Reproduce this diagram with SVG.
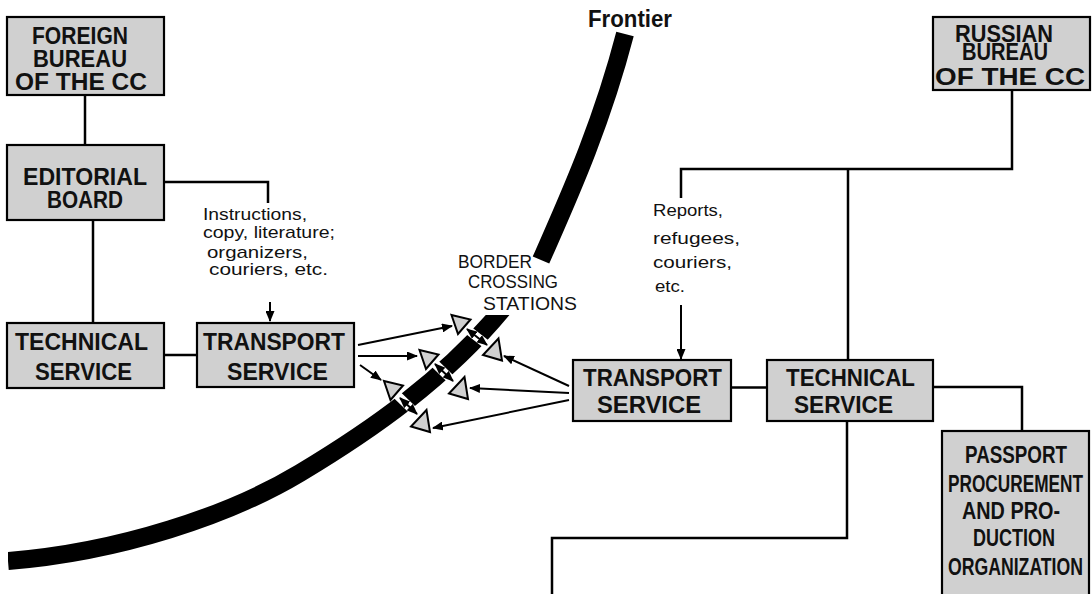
<svg xmlns="http://www.w3.org/2000/svg" width="1092" height="594" viewBox="0 0 1092 594">
<style>
.box{fill:#d0d0d0;stroke:#000;stroke-width:2.2}
.nt{font-family:"Liberation Sans",Arial,sans-serif;font-weight:bold;font-size:23px;fill:#111}
.lb{font-family:"Liberation Sans",Arial,sans-serif;font-size:17px;fill:#111}
.bc{font-family:"Liberation Sans",Arial,sans-serif;font-size:19px;fill:#111}
.ln{fill:none;stroke:#000;stroke-width:2.5}
.ar{fill:none;stroke:#000;stroke-width:2;marker-end:url(#ah)}
.da{fill:none;stroke:#000;stroke-width:2;marker-start:url(#ah);marker-end:url(#ah)}
.gap{stroke:#fff;stroke-width:9;fill:none}
.band{fill:none;stroke:#000;stroke-width:18}
.tri{fill:#d0d0d0;stroke:#000;stroke-width:2;stroke-linejoin:miter}
</style>
<defs>
<marker id="ah" markerUnits="userSpaceOnUse" markerWidth="11" markerHeight="9" refX="10" refY="4.5" orient="auto-start-reverse" viewBox="0 0 11 9">
<path d="M0,0 L11,4.5 L0,9 z" fill="#000"/>
</marker>
<polygon id="tl" points="0,0 19,4.5 6.5,19"/>
<polygon id="tr" points="0,0 -15.5,16.5 3.5,22"/>
<clipPath id="lowclip"><rect x="8" y="315" width="1084" height="279"/></clipPath>
</defs>
<rect width="1092" height="594" fill="#fff"/>

<g id="frontier">
<path class="band" d="M8,561 C120,552 230,515 300,473 S447,378 506,305" clip-path="url(#lowclip)"/>
<path class="band" d="M541,260 C565,205 600,130 625,34"/>
<line class="gap" x1="459" y1="323" x2="495" y2="351"/>
<line class="gap" x1="428" y1="357" x2="460" y2="388"/>
<line class="gap" x1="393" y1="391" x2="424" y2="421"/>
<text class="nt" x="588" y="27" font-size="21" textLength="84" lengthAdjust="spacingAndGlyphs">Frontier</text>
</g>

<g id="border-crossing-stations">
<use href="#tl" class="tri" x="451.5" y="315"/>
<use href="#tl" class="tri" x="419.5" y="350"/>
<use href="#tl" class="tri" x="384" y="381"/>
<use href="#tr" class="tri" x="498.5" y="338.5"/>
<use href="#tr" class="tri" x="464.5" y="377"/>
<use href="#tr" class="tri" x="426.5" y="410"/>
<text class="bc" x="458" y="268" textLength="74" lengthAdjust="spacingAndGlyphs">BORDER</text>
<text class="bc" x="468" y="288" textLength="90" lengthAdjust="spacingAndGlyphs">CROSSING</text>
<text class="bc" x="483" y="310" textLength="94" lengthAdjust="spacingAndGlyphs">STATIONS</text>
</g>

<g id="connectors">
<path class="ln" d="M85,95 V145"/>
<path class="ln" d="M93,220 V323"/>
<path class="ln" d="M164,182 H268 V203"/>
<path class="ln" d="M164,355 H197"/>
<path class="ln" d="M1012,90 V169 H681 V198"/>
<path class="ln" d="M848,169 V360"/>
<path class="ln" d="M731,387.5 H767"/>
<path class="ln" d="M933,387 H1022 V431"/>
<path class="ln" d="M847,421 V538 H552 V594"/>
<path class="ar" d="M270,302 V321"/>
<path class="ar" d="M681,305 V359"/>
<path class="ar" d="M358,345 L452,326"/>
<path class="ar" d="M358,356 L417,356"/>
<path class="ar" d="M360,365 L381,380"/>
<path class="ar" d="M569,386 L504,356"/>
<path class="ar" d="M569,393 L470,388"/>
<path class="ar" d="M569,400 L433,428"/>
<path class="da" d="M467,329 L487,345"/>
<path class="da" d="M435,364 L453,381"/>
<path class="da" d="M400,398 L417,414"/>
</g>

<g id="foreign-bureau">
<rect class="box" x="7" y="17" width="157" height="78"/>
<text class="nt" x="32" y="44" font-size="21" textLength="96" lengthAdjust="spacingAndGlyphs">FOREIGN</text>
<text class="nt" x="33" y="67" font-size="21" textLength="94" lengthAdjust="spacingAndGlyphs">BUREAU</text>
<text class="nt" x="15" y="90" font-size="21" textLength="132" lengthAdjust="spacingAndGlyphs">OF THE CC</text>
</g>

<g id="editorial-board">
<rect class="box" x="7" y="145" width="157" height="75"/>
<text class="nt" x="23" y="185" textLength="124" lengthAdjust="spacingAndGlyphs">EDITORIAL</text>
<text class="nt" x="47" y="208" textLength="76" lengthAdjust="spacingAndGlyphs">BOARD</text>
</g>

<g id="instructions-label">
<text class="lb" x="203" y="220" textLength="104" lengthAdjust="spacingAndGlyphs">Instructions,</text>
<text class="lb" x="203" y="238" textLength="132" lengthAdjust="spacingAndGlyphs">copy, literature;</text>
<text class="lb" x="207" y="258" textLength="101" lengthAdjust="spacingAndGlyphs">organizers,</text>
<text class="lb" x="209" y="275" textLength="119" lengthAdjust="spacingAndGlyphs">couriers, etc.</text>
</g>

<g id="technical-service-left">
<rect class="box" x="7" y="323" width="157" height="65"/>
<text class="nt" x="15" y="350" textLength="133" lengthAdjust="spacingAndGlyphs">TECHNICAL</text>
<text class="nt" x="35" y="380" textLength="97" lengthAdjust="spacingAndGlyphs">SERVICE</text>
</g>

<g id="transport-service-left">
<rect class="box" x="197" y="323" width="157" height="64"/>
<text class="nt" x="203" y="350" textLength="142" lengthAdjust="spacingAndGlyphs">TRANSPORT</text>
<text class="nt" x="227" y="380" textLength="101" lengthAdjust="spacingAndGlyphs">SERVICE</text>
</g>

<g id="russian-bureau">
<rect class="box" x="933" y="17" width="157" height="73"/>
<text class="nt" x="955" y="42" font-size="18" textLength="98" lengthAdjust="spacingAndGlyphs">RUSSIAN</text>
<text class="nt" x="962" y="60" font-size="18" textLength="86" lengthAdjust="spacingAndGlyphs">BUREAU</text>
<text class="nt" x="935" y="85" font-size="21" textLength="150" lengthAdjust="spacingAndGlyphs">OF THE CC</text>
</g>

<g id="reports-label">
<text class="lb" x="653" y="216" font-size="18" textLength="70" lengthAdjust="spacingAndGlyphs">Reports,</text>
<text class="lb" x="653" y="244" font-size="18" textLength="87" lengthAdjust="spacingAndGlyphs">refugees,</text>
<text class="lb" x="653" y="268" font-size="18" textLength="79" lengthAdjust="spacingAndGlyphs">couriers,</text>
<text class="lb" x="655" y="292" font-size="18" textLength="30" lengthAdjust="spacingAndGlyphs">etc.</text>
</g>

<g id="transport-service-right">
<rect class="box" x="573" y="360" width="158" height="61"/>
<text class="nt" x="583" y="386" textLength="139" lengthAdjust="spacingAndGlyphs">TRANSPORT</text>
<text class="nt" x="597" y="413" textLength="104" lengthAdjust="spacingAndGlyphs">SERVICE</text>
</g>

<g id="technical-service-right">
<rect class="box" x="767" y="360" width="166" height="61"/>
<text class="nt" x="786" y="386" textLength="129" lengthAdjust="spacingAndGlyphs">TECHNICAL</text>
<text class="nt" x="794" y="413" textLength="99" lengthAdjust="spacingAndGlyphs">SERVICE</text>
</g>

<g id="passport-organization">
<rect class="box" x="942" y="431" width="147" height="175"/>
<text class="nt" x="965" y="463" font-size="20" textLength="102" lengthAdjust="spacingAndGlyphs">PASSPORT</text>
<text class="nt" x="948" y="492" font-size="20" textLength="135" lengthAdjust="spacingAndGlyphs">PROCUREMENT</text>
<text class="nt" x="962" y="519" font-size="20" textLength="98" lengthAdjust="spacingAndGlyphs">AND PRO-</text>
<text class="nt" x="973" y="546" font-size="20" textLength="82" lengthAdjust="spacingAndGlyphs">DUCTION</text>
<text class="nt" x="948" y="575" font-size="20" textLength="135" lengthAdjust="spacingAndGlyphs">ORGANIZATION</text>
</g>
</svg>
